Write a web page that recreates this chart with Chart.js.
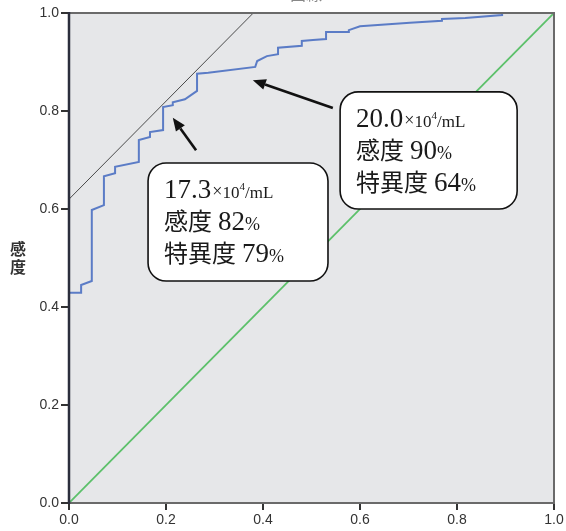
<!DOCTYPE html>
<html>
<head>
<meta charset="utf-8">
<script src="https://cdn.jsdelivr.net/npm/chart.js@4.4.1/dist/chart.umd.min.js"></script>
<style>
    html, body { margin: 0; padding: 0; background: #fff; }
</style>
</head>
<body>
<canvas id="rocCanvas" width="566" height="531"></canvas>
<script>
// ROC curve (1 - specificity, sensitivity)
const rocFpr = [0, 0.025, 0.025, 0.047, 0.047, 0.072, 0.072, 0.095, 0.095, 0.144, 0.144, 0.167, 0.167,
    0.194, 0.194, 0.214, 0.214, 0.239, 0.264, 0.264, 0.287, 0.384, 0.388, 0.408, 0.431, 0.431,
    0.480, 0.480, 0.503, 0.530, 0.530, 0.577, 0.577, 0.600, 0.703, 0.769, 0.769, 0.817, 0.893, 0.893, 1.0];
const rocTpr = [0.429, 0.429, 0.445, 0.453, 0.598, 0.608, 0.667, 0.673, 0.686, 0.696, 0.741, 0.747, 0.757,
    0.761, 0.808, 0.812, 0.818, 0.824, 0.841, 0.876, 0.878, 0.890, 0.902, 0.912, 0.916, 0.929,
    0.933, 0.943, 0.945, 0.947, 0.961, 0.961, 0.965, 0.973, 0.980, 0.984, 0.988, 0.990, 0.996, 1.0, 1.0];

// reference diagonal and the tangent line
const diagX = [0, 1];
const diagY = [0, 1];
const tangentX = [0, 0.38];
const tangentY = [0.62, 1.0];

// cut-off annotations
const cutoffValues = ['17.3', '20.0'];
const sensitivity = ['82', '90'];
const specificity = ['79', '64'];

const tickValues = [0, 0.2, 0.4, 0.6, 0.8, 1.0];
const yAxisTitle = ['感', '度'];

const toPoints = (xs, ys) => xs.map((x, i) => ({ x, y: ys[i] }));

const SERIF = '"Liberation Serif", "DejaVu Serif", serif';
const CJK = '"Noto Sans CJK JP", sans-serif';

// box / arrow placement (data coords)
const boxes = [
    { left: 0.163, right: 0.534, top: 0.694, bottom: 0.453, arrow: [0.262, 0.720, 0.214, 0.786] },
    { left: 0.559, right: 0.924, top: 0.839, bottom: 0.600, arrow: [0.544, 0.806, 0.379, 0.863] }
];

function roundRect(ctx, x, y, w, h, r) {
    ctx.beginPath();
    ctx.moveTo(x + r, y);
    ctx.arcTo(x + w, y, x + w, y + h, r);
    ctx.arcTo(x + w, y + h, x, y + h, r);
    ctx.arcTo(x, y + h, x, y, r);
    ctx.arcTo(x, y, x + w, y, r);
    ctx.closePath();
}

function drawSegments(ctx, x, y, segs) {
    segs.forEach(s => {
        ctx.font = s.font;
        ctx.fillText(s.t, x, y + (s.dy || 0));
        x += ctx.measureText(s.t).width + (s.gap || 0);
    });
}

function drawArrow(ctx, x1, y1, x2, y2) {
    const ang = Math.atan2(y2 - y1, x2 - x1);
    const headLen = 13, headW = 5.5;
    const bx = x2 - headLen * Math.cos(ang);
    const by = y2 - headLen * Math.sin(ang);
    ctx.strokeStyle = '#111';
    ctx.lineWidth = 2.6;
    ctx.beginPath();
    ctx.moveTo(x1, y1);
    ctx.lineTo(bx, by);
    ctx.stroke();
    ctx.fillStyle = '#111';
    ctx.beginPath();
    ctx.moveTo(x2, y2);
    ctx.lineTo(bx + headW * Math.sin(ang), by - headW * Math.cos(ang));
    ctx.lineTo(bx - headW * Math.sin(ang), by + headW * Math.cos(ang));
    ctx.closePath();
    ctx.fill();
}

// background of the plot area
const plotBackground = {
    id: 'plotBackground',
    beforeDraw(chart) {
        const { ctx, chartArea: a } = chart;
        ctx.save();
        ctx.fillStyle = '#e6e7e9';
        ctx.fillRect(a.left, a.top, a.right - a.left, a.bottom - a.top);
        ctx.restore();
    }
};

// frame, annotations and axis title
const annotations = {
    id: 'annotations',
    afterDatasetsDraw(chart) {
        const { ctx, chartArea: a, scales } = chart;
        const sx = scales.x, sy = scales.y;
        ctx.save();

        // frame
        ctx.strokeStyle = '#6a6a6a';
        ctx.lineWidth = 2;
        ctx.strokeRect(a.left, a.top, a.right - a.left, a.bottom - a.top);
        ctx.strokeStyle = '#2b2e3c';
        ctx.lineWidth = 2.5;
        ctx.beginPath();
        ctx.moveTo(a.left, a.top - 1);
        ctx.lineTo(a.left, a.bottom + 1);
        ctx.stroke();

        boxes.forEach((b, i) => {
            const [tx, ty, hx, hy] = b.arrow;
            drawArrow(ctx, sx.getPixelForValue(tx), sy.getPixelForValue(ty),
                sx.getPixelForValue(hx), sy.getPixelForValue(hy));

            const l = sx.getPixelForValue(b.left), r = sx.getPixelForValue(b.right);
            const t = sy.getPixelForValue(b.top), bt = sy.getPixelForValue(b.bottom);
            roundRect(ctx, l, t, r - l, bt - t, 18);
            ctx.fillStyle = '#fff';
            ctx.fill();
            ctx.strokeStyle = '#111';
            ctx.lineWidth = 1.6;
            ctx.stroke();

            ctx.fillStyle = '#1a1a1a';
            ctx.textAlign = 'left';
            ctx.textBaseline = 'alphabetic';
            const x0 = l + 16;
            drawSegments(ctx, x0, t + 35, [
                { t: cutoffValues[i], font: '27px ' + SERIF, gap: 1 },
                { t: '×', font: '18px ' + SERIF, dy: -1 },
                { t: '10', font: '17px ' + SERIF },
                { t: '4', font: '11px ' + SERIF, dy: -8 },
                { t: '/mL', font: '17px ' + SERIF }
            ]);
            drawSegments(ctx, x0, t + 67, [
                { t: '感度', font: '24px ' + CJK, gap: 6 },
                { t: sensitivity[i], font: '27px ' + SERIF },
                { t: '%', font: '18px ' + SERIF }
            ]);
            drawSegments(ctx, x0, t + 99, [
                { t: '特異度', font: '24px ' + CJK, gap: 6 },
                { t: specificity[i], font: '27px ' + SERIF },
                { t: '%', font: '18px ' + SERIF }
            ]);
        });

        // vertical axis title
        ctx.fillStyle = '#333';
        ctx.font = 'bold 16px ' + CJK;
        ctx.textAlign = 'center';
        ctx.textBaseline = 'middle';
        const mid = (a.top + a.bottom) / 2;
        yAxisTitle.forEach((c, i) => {
            ctx.fillText(c, 18, mid - 9 + i * 18);
        });

        // title at the top, cut off by the edge
        ctx.fillStyle = '#888';
        ctx.font = '16px ' + CJK;
        ctx.textBaseline = 'bottom';
        ctx.fillText('曲線', 306, 2);

        ctx.restore();
    }
};

const tickFont = { family: '"Liberation Sans", Arial, sans-serif', size: 14 };

new Chart(document.getElementById('rocCanvas'), {
    type: 'scatter',
    data: {
        datasets: [
            {
                data: toPoints(rocFpr, rocTpr),
                showLine: true,
                borderColor: '#5b7cc6',
                borderWidth: 2,
                pointRadius: 0,
                tension: 0
            },
            {
                data: toPoints(diagX, diagY),
                showLine: true,
                borderColor: '#5cc06a',
                borderWidth: 1.8,
                pointRadius: 0
            },
            {
                data: toPoints(tangentX, tangentY),
                showLine: true,
                borderColor: '#222',
                borderWidth: 0.8,
                pointRadius: 0
            }
        ]
    },
    options: {
        responsive: false,
        animation: false,
        devicePixelRatio: 1,
        layout: { padding: { top: 13, right: 12, left: 0, bottom: 0 } },
        plugins: {
            legend: { display: false },
            tooltip: { enabled: false }
        },
        scales: {
            x: {
                type: 'linear',
                min: 0,
                max: 1,
                afterBuildTicks: s => { s.ticks = tickValues.map(v => ({ value: v })); },
                afterFit: s => { s.height = 28; },
                border: { display: false },
                grid: { drawOnChartArea: false, tickLength: 7, color: '#333', lineWidth: 2 },
                ticks: { font: tickFont, color: '#333', padding: 2, maxRotation: 0,
                    callback: v => v.toFixed(1) }
            },
            y: {
                type: 'linear',
                min: 0,
                max: 1,
                afterBuildTicks: s => { s.ticks = tickValues.map(v => ({ value: v })); },
                afterFit: s => { s.width = 69; },
                border: { display: false },
                grid: { drawOnChartArea: false, tickLength: 8, color: '#333', lineWidth: 2 },
                ticks: { font: tickFont, color: '#333', padding: 2,
                    callback: v => v.toFixed(1) }
            }
        }
    },
    plugins: [plotBackground, annotations]
});
</script>
</body>
</html>
